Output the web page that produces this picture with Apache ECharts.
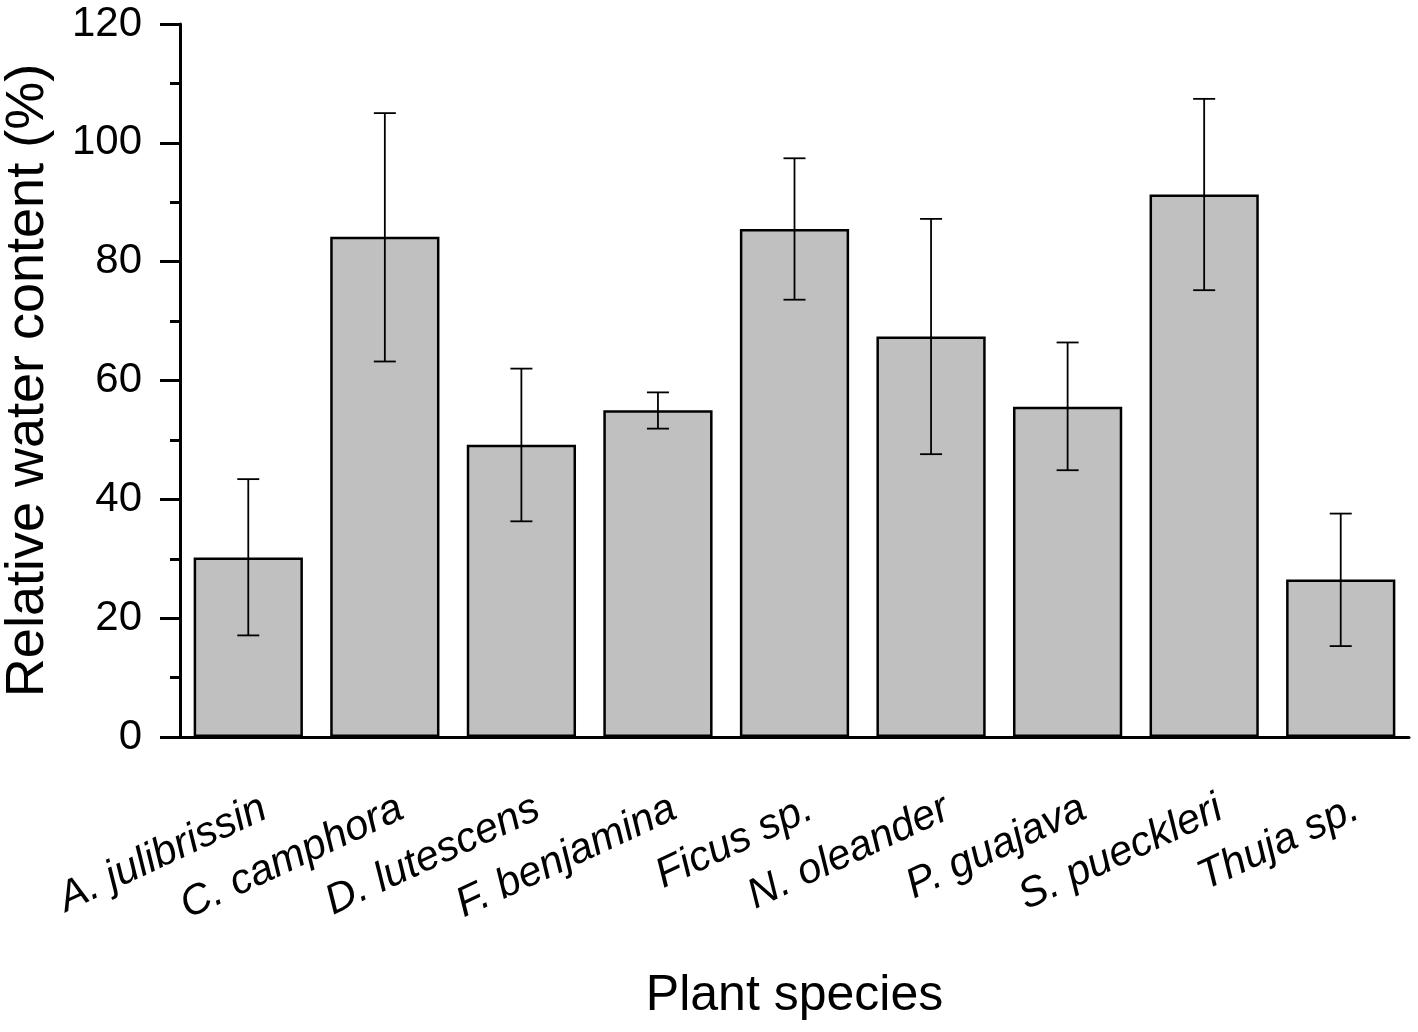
<!DOCTYPE html>
<html>
<head>
<meta charset="utf-8">
<script src="https://cdn.jsdelivr.net/npm/echarts@6/dist/echarts.min.js"></script>
<style>html,body{margin:0;padding:0;background:#fff}#c{width:1418px;height:1032px}</style>
</head>
<body>
<div id="c"></div>
<script>
const categories = ['A. julibrissin','C. camphora','D. lutescens','F. benjamina','Ficus sp.','N. oleander','P. guajava','S. pueckleri','Thuja sp.'];
const means = [30.2, 84.2, 49.2, 55.0, 85.5, 67.4, 55.6, 91.3, 26.5];
const upper = [43.4, 105.0, 62.0, 58.0, 97.4, 87.2, 66.4, 107.4, 37.6];
const lower = [17.1, 63.2, 36.3, 51.9, 73.6, 47.6, 44.9, 75.2, 15.3];

const chart = echarts.init(document.getElementById('c'), null, {renderer:'canvas'});
const font = 'Liberation Sans, Arial, sans-serif';
chart.setOption({
  animation:false,
  backgroundColor:'#fff',
  grid:{left:180, right:9, top:24, bottom:295, containLabel:false, outerBoundsMode:'none'},
  xAxis:{
    type:'category', data:categories,
    name:'Plant species', nameLocation:'middle', nameGap:234,
    nameTextStyle:{fontFamily:font, fontSize:50, color:'#000'},
    axisLine:{lineStyle:{color:'#000', width:3}},
    axisTick:{alignWithLabel:true, length:20, lineStyle:{color:'#000', width:3}},
    axisLabel:{rotate:25, fontFamily:font, fontSize:42, fontStyle:'italic', color:'#000',
               margin:54, interval:0, align:'right', verticalAlign:'top', padding:[0,-8,0,0]}
  },
  yAxis:{
    type:'value', min:0, max:120, interval:20,
    name:'Relative water content (%)', nameLocation:'middle', nameGap:125,
    nameTextStyle:{fontFamily:font, fontSize:54, color:'#000'},
    axisLine:{show:true, lineStyle:{color:'#000', width:3}},
    axisTick:{show:true, length:20, lineStyle:{color:'#000', width:3}},
    minorTick:{show:true, splitNumber:2, length:10, lineStyle:{color:'#000', width:3}},
    splitLine:{show:false},
    axisLabel:{fontFamily:font, fontSize:42, color:'#000', margin:38}
  },
  series:[
    {type:'bar', data:means, barWidth:'80%',
     itemStyle:{color:'#c0c0c0', borderColor:'#000', borderWidth:2.5}},
    {type:'custom', data:categories.map((c,i)=>[i, lower[i], upper[i]]),
     renderItem:function(params, api){
       const x = api.value(0);
       const lo = api.coord([x, api.value(1)]);
       const hi = api.coord([x, api.value(2)]);
       const hw = 11;
       const st = {stroke:'#000', lineWidth:1.8};
       return {type:'group', children:[
         {type:'line', shape:{x1:lo[0], y1:lo[1], x2:hi[0], y2:hi[1]}, style:st},
         {type:'line', shape:{x1:hi[0]-hw, y1:hi[1], x2:hi[0]+hw, y2:hi[1]}, style:st},
         {type:'line', shape:{x1:lo[0]-hw, y1:lo[1], x2:lo[0]+hw, y2:lo[1]}, style:st}
       ]};
     }, z:10}
  ]
});
</script>
</body>
</html>
